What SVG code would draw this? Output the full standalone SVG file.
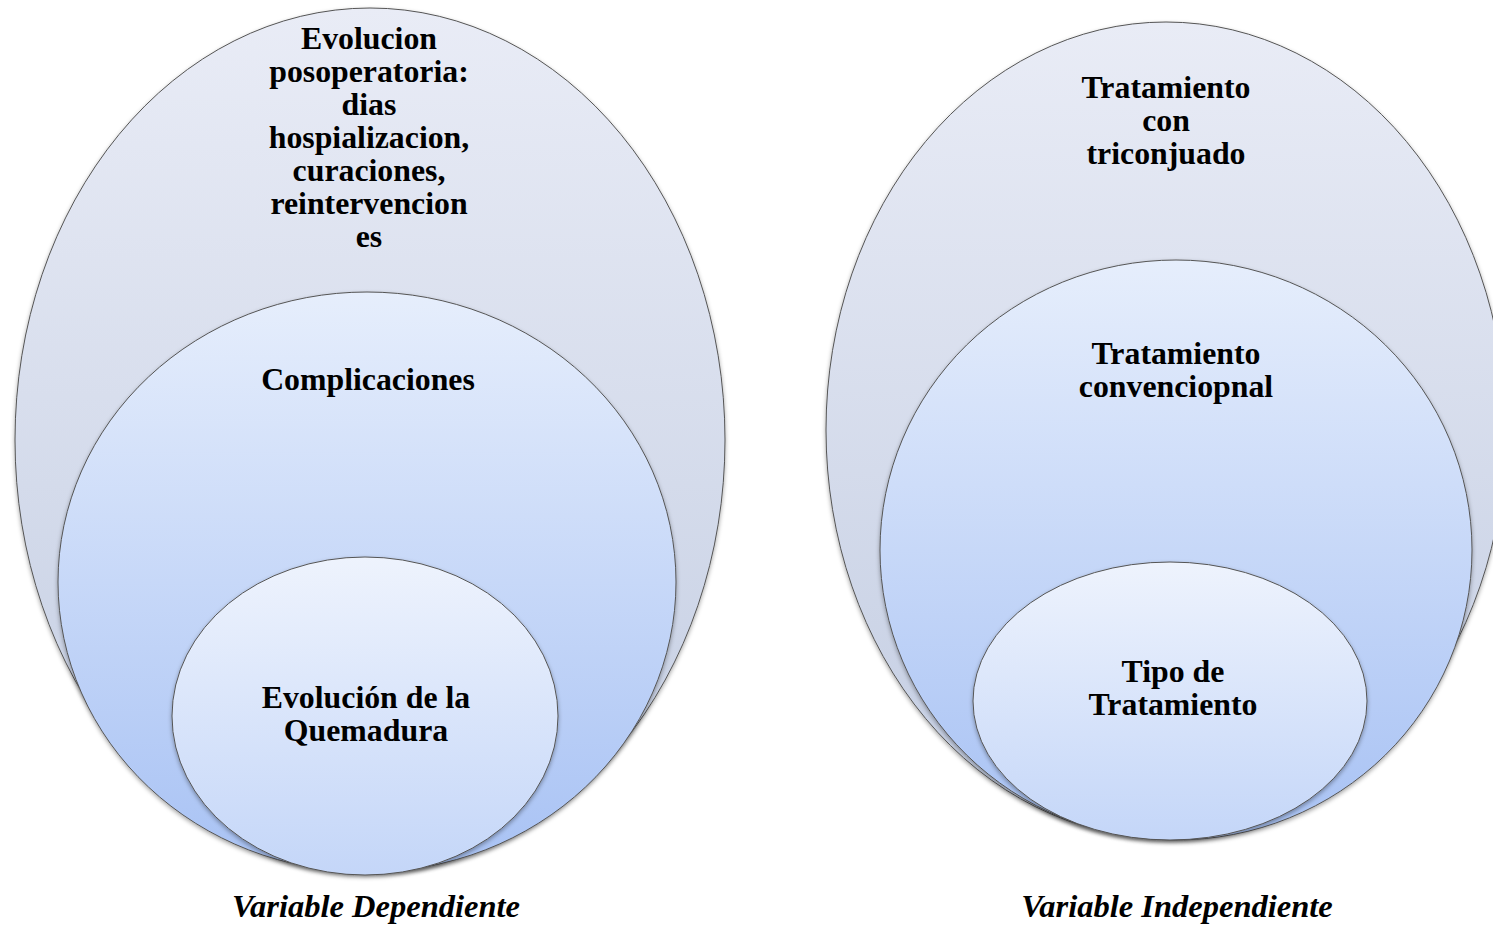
<svg xmlns="http://www.w3.org/2000/svg" width="1493" height="926" viewBox="0 0 1493 926">
<style>
.t{font-family:"Liberation Serif","Times New Roman",serif;font-weight:bold;font-size:31.8px;fill:#000;text-anchor:middle}
.cap{font-family:"Liberation Serif","Times New Roman",serif;font-weight:bold;font-style:italic;font-size:32.5px;fill:#000;text-anchor:middle}
.o{fill:url(#gOuter);stroke:#555;stroke-width:1;filter:url(#sh)}
.m{fill:url(#gMid);stroke:#555;stroke-width:1;filter:url(#sh)}
.i{fill:url(#gIn);stroke:#555;stroke-width:1;filter:url(#sh)}
</style>
<defs>
<linearGradient id="gOuter" x1="0" y1="0" x2="0" y2="1">
<stop offset="0" stop-color="#e9ecf6"/>
<stop offset="1" stop-color="#c3cde2"/>
</linearGradient>
<linearGradient id="gMid" x1="0" y1="0" x2="0" y2="1">
<stop offset="0" stop-color="#e6eefc"/>
<stop offset="1" stop-color="#a8c2f4"/>
</linearGradient>
<linearGradient id="gIn" x1="0" y1="0" x2="0" y2="1">
<stop offset="0" stop-color="#eef3fd"/>
<stop offset="1" stop-color="#c4d6f8"/>
</linearGradient>
<filter id="sh" x="-5%" y="-5%" width="110%" height="112%">
<feDropShadow dx="0" dy="2" stdDeviation="2" flood-color="#000" flood-opacity="0.35"/>
</filter>
</defs>
<g id="left-outer">
<ellipse class="o" cx="370" cy="440" rx="355" ry="432"/>
<text class="t" x="369" y="49">Evolucion</text>
<text class="t" x="369" y="82">posoperatoria:</text>
<text class="t" x="369" y="115">dias</text>
<text class="t" x="369" y="148">hospializacion,</text>
<text class="t" x="369" y="181">curaciones,</text>
<text class="t" x="369" y="214">reintervencion</text>
<text class="t" x="369" y="247">es</text>
</g>
<g id="left-middle">
<ellipse class="m" cx="367" cy="582" rx="309" ry="290"/>
<text class="t" x="368" y="390">Complicaciones</text>
</g>
<g id="left-inner">
<ellipse class="i" cx="365" cy="716" rx="193" ry="159"/>
<text class="t" x="366" y="708">Evolución de la</text>
<text class="t" x="366" y="741">Quemadura</text>
</g>
<g id="right-outer">
<ellipse class="o" cx="1166" cy="430" rx="340" ry="408"/>
<text class="t" x="1166" y="98">Tratamiento</text>
<text class="t" x="1166" y="131">con</text>
<text class="t" x="1166" y="164">triconjuado</text>
</g>
<g id="right-middle">
<ellipse class="m" cx="1176" cy="550" rx="296" ry="290"/>
<text class="t" x="1176" y="364">Tratamiento</text>
<text class="t" x="1176" y="397">convenciopnal</text>
</g>
<g id="right-inner">
<ellipse class="i" cx="1170" cy="701" rx="197" ry="139"/>
<text class="t" x="1173" y="682">Tipo de</text>
<text class="t" x="1173" y="715">Tratamiento</text>
</g>
<g id="connectors"></g>
<g id="captions">
<text class="cap" x="376" y="917">Variable Dependiente</text>
<text class="cap" x="1177" y="917">Variable Independiente</text>
</g>
</svg>
